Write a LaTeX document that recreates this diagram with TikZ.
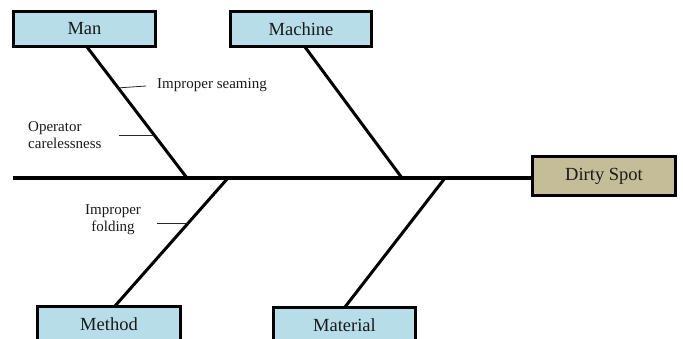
\documentclass[tikz,border=0pt]{standalone}
\usepackage{fontspec}
\setmainfont{Liberation Serif}
\usetikzlibrary{calc}
\definecolor{boxblue}{HTML}{B7DDE8}
\definecolor{boxtan}{HTML}{C4BD97}
\definecolor{txt}{HTML}{1A1A1A}
\begin{document}
\begin{tikzpicture}[x=1pt,y=-1pt,
  catbox/.style={draw=black,line width=3pt,fill=boxblue,minimum width=#1,minimum height=35pt,inner sep=0pt,font=\fontsize{18.5}{22}\selectfont,text=txt},
  effbox/.style={draw=black,line width=3pt,fill=boxtan,minimum width=143pt,minimum height=39pt,inner sep=0pt,font=\fontsize{18.5}{22}\selectfont,text=txt},
  bone/.style={line width=3pt,black},
  spine/.style={line width=4pt,black},
  tick/.style={line width=0.8pt,black!85},
  lbl/.style={font=\fontsize{15}{17}\selectfont,text=txt,inner sep=0pt}]
\useasboundingbox (0,0) rectangle (683,339);
\begin{scope}
\clip (0,0) rectangle (683,339);
% spine coordinates
\coordinate (tail) at (13,178);
\coordinate (j1) at (187,178);
\coordinate (j2) at (402,178);
\coordinate (j3) at (228,178);
\coordinate (j4) at (445,178);
\coordinate (m1) at (87,47);
\coordinate (m2) at (305,47);
\coordinate (m3) at (115,306);
\coordinate (m4) at (345,307);
% bones
\draw[spine] (tail) -- (531,178) coordinate (head);
\draw[bone] (m1) -- (j1);
\draw[bone] (m2) -- (j2);
\draw[bone] (m3) -- (j3);
\draw[bone] (m4) -- (j4);
% boxes
\node[catbox=142pt] (man) at (84.5,29) {Man};
\node[catbox=141pt] (machine) at (301,29) {Machine};
\node[effbox] (dirty) at (604,176) {Dirty Spot};
\node[catbox=143pt] (method) at (109,324) {Method};
\node[catbox=142pt] (material) at (344.5,325) {Material};
% sub-causes
\coordinate (t1a) at (117,88);
\coordinate (t1b) at (146,86);
\draw[tick] (t1a) -- (t1b);
\node[lbl,anchor=west] (seam) at (157,85) {Improper seaming};
\coordinate (t2a) at (154,135);
\coordinate (t2b) at (119,135);
\draw[tick] (t2a) -- (t2b);
\node[lbl,anchor=west,align=left] (oper) at (28,135) {Operator\\carelessness};
\coordinate (t3a) at (188,223);
\coordinate (t3b) at (157,223);
\draw[tick] (t3a) -- (t3b);
\node[lbl,align=center] (fold) at (113,219.5) {Improper\\folding};
\end{scope}
\end{tikzpicture}
\end{document}
